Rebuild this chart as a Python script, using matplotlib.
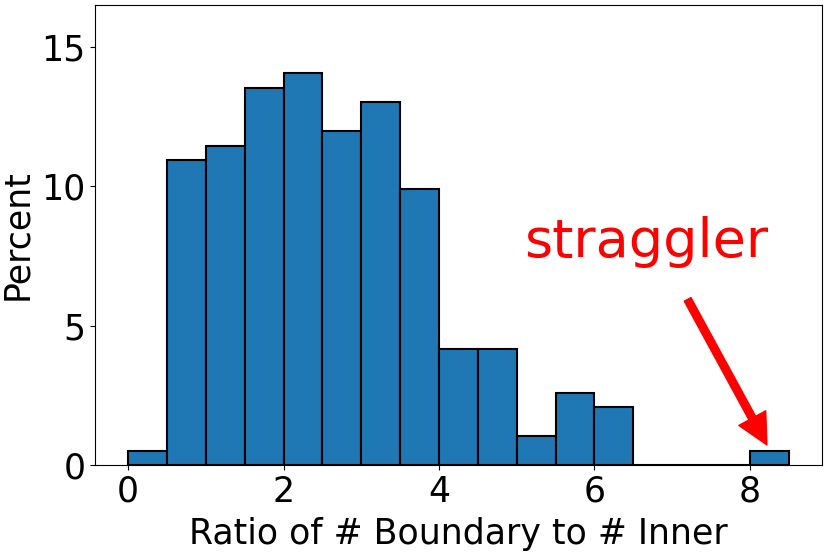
import numpy as np
import matplotlib
matplotlib.use("Agg")
import matplotlib.pyplot as plt

# histogram bins (width 0.5) and percent per bin
bin_edges = [0.0, 0.5, 1.0, 1.5, 2.0, 2.5, 3.0, 3.5, 4.0, 4.5, 5.0, 5.5, 6.0, 6.5, 7.0, 7.5, 8.0, 8.5]
percent = [0.52, 10.94, 11.46, 13.54, 14.06, 11.98, 13.02, 9.90, 4.17, 4.17, 1.04, 2.60, 2.08, 0.0, 0.0, 0.0, 0.52]
y_ticks = [0, 5, 10, 15]

edges = np.array(bin_edges)
centers = (edges[:-1] + edges[1:]) / 2

fig = plt.figure(figsize=(8.3, 5.54), dpi=100)
ax = fig.add_axes([0.1145, 0.1606, 0.8755, 0.8304])

ax.hist(centers, bins=edges, weights=percent, color="#1f77b4",
        edgecolor="black", linewidth=1.5)

ax.set_ylim(0, 16.5)
ax.set_yticks(y_ticks)
ax.set_xlabel("Ratio of # Boundary to # Inner", fontsize=25, labelpad=6)
ax.set_ylabel("Percent", fontsize=25, labelpad=5)
ax.tick_params(labelsize=25)

ax.annotate("straggler", xy=(8.22, 0.72), xytext=(5.1, 7.45),
            color="red", fontsize=39)
ax.annotate("", xy=(8.22, 0.72), xytext=(7.2, 5.94),
            arrowprops=dict(facecolor="red", edgecolor="red", width=5.5,
                            headwidth=22, headlength=22, shrink=0))

fig.savefig("out.png", dpi=100)
